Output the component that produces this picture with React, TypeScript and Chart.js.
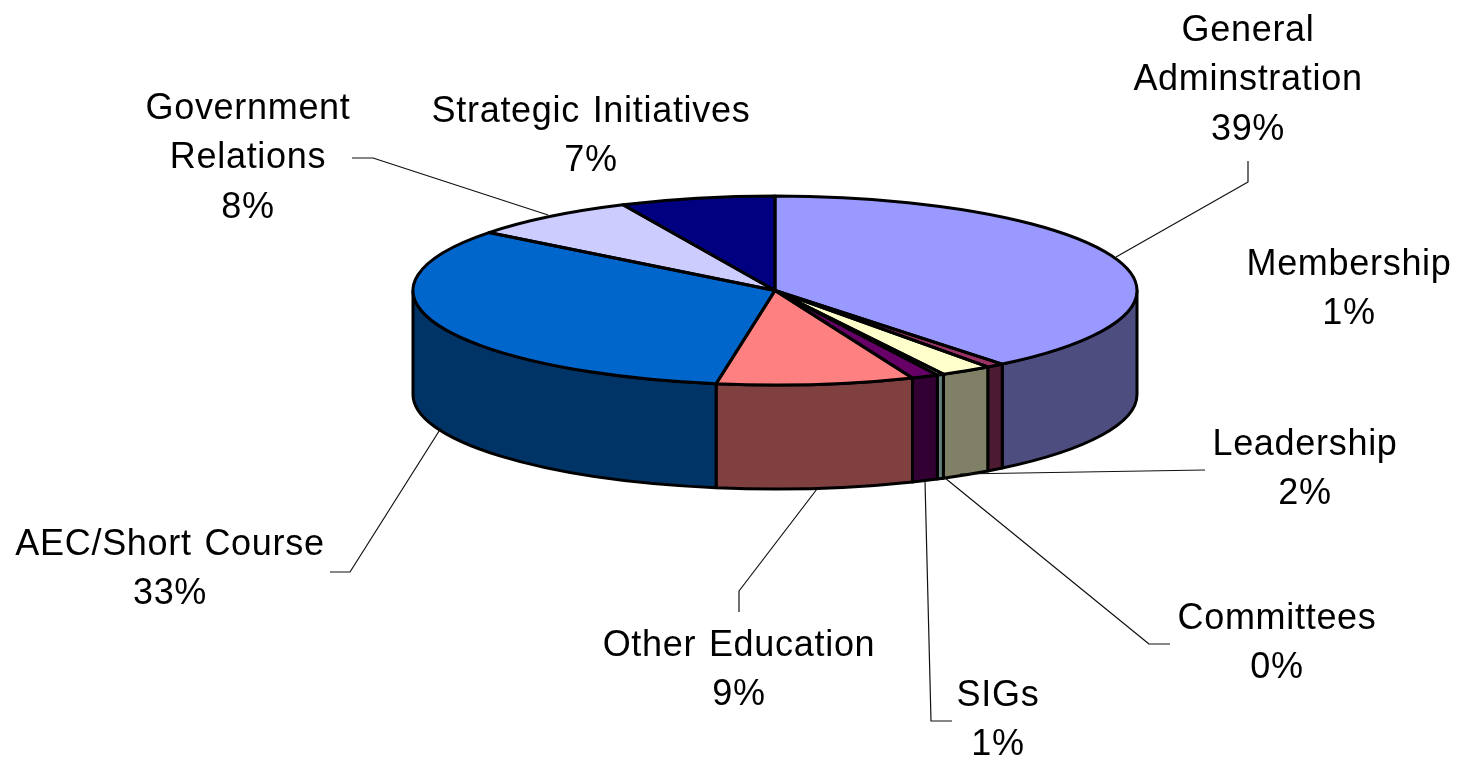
import React, { useEffect, useRef } from "react";
import { Chart, registerables } from "chart.js";

Chart.register(...registerables);

const categories = ["General Adminstration", "Membership", "Leadership", "Committees", "SIGs", "Other Education", "AEC/Short Course", "Government Relations", "Strategic Initiatives"];
const values = [39.2, 0.8, 2.3, 0.3, 1.2, 8.8, 32.9, 7.6, 6.9];
const topColors = ["#9999FF", "#993366", "#FFFFCC", "#CCFFFF", "#660066", "#FF8080", "#0066CC", "#CCCCFF", "#000080"];
const wallColors = ["#4D4D80", "#4D1A33", "#808066", "#668080", "#330033", "#804040", "#003366", "#666680", "#000040"];
const labelLines = [["General", "Adminstration"], ["Membership"], ["Leadership"], ["Committees"], ["SIGs"], ["Other Education"], ["AEC/Short Course"], ["Government", "Relations"], ["Strategic Initiatives"]];
const labelX = [1248, 1349, 1305, 1277, 998, 739, 170, 248, 591];
const labelY = [31, 265, 445, 619, 696, 646, 545, 109, 112];
const leaders: (number[][] | null)[] = [
  [[1116, 257], [1248, 182], [1248, 161]],
  null,
  [[960, 474], [1205, 470]],
  [[945, 478], [1149, 644], [1170, 644]],
  [[925, 481], [931, 721], [952, 721]],
  [[817, 489], [739, 591], [739, 612]],
  [[441, 428], [350, 572], [330, 572]],
  [[548, 215], [373, 158], [352, 158]],
  null,
];

const CY = 290.5;
const RY = 94.5;
const DEPTH = 104;
const LINE_H = 49.5;

const pie3d = {
  id: "pie3d",
  beforeDatasetsDraw(chart: any) {
    const { ctx } = chart;
    const arcs = chart.getDatasetMeta(0).data;
    ctx.save();
    ctx.lineWidth = 3;
    ctx.strokeStyle = "#000";
    ctx.lineJoin = "round";
    arcs.forEach((a: any, i: number) => {
      const s = Math.max(a.startAngle, 0);
      const e = Math.min(a.endAngle, Math.PI);
      if (e <= s) return;
      const r = a.outerRadius;
      ctx.beginPath();
      ctx.ellipse(a.x, CY, r, RY, 0, s, e);
      ctx.ellipse(a.x, CY + DEPTH, r, RY, 0, e, s, true);
      ctx.closePath();
      ctx.fillStyle = wallColors[i];
      ctx.fill();
      ctx.stroke();
    });
    const first = arcs[0];
    const k = RY / first.outerRadius;
    ctx.translate(0, CY);
    ctx.scale(1, k);
    ctx.translate(0, -first.y);
  },
  afterDatasetsDraw(chart: any) {
    const { ctx } = chart;
    const arcs = chart.getDatasetMeta(0).data;
    ctx.restore();
    ctx.save();
    ctx.lineWidth = 3;
    ctx.strokeStyle = "#000";
    ctx.lineJoin = "round";
    arcs.forEach((a: any) => {
      const r = a.outerRadius;
      ctx.beginPath();
      ctx.moveTo(a.x, CY);
      ctx.ellipse(a.x, CY, r, RY, 0, a.startAngle, a.endAngle);
      ctx.closePath();
      ctx.stroke();
    });
    ctx.lineWidth = 1.2;
    ctx.strokeStyle = "#111";
    leaders.forEach((pts) => {
      if (!pts) return;
      ctx.beginPath();
      pts.forEach((p, j) => (j ? ctx.lineTo(p[0], p[1]) : ctx.moveTo(p[0], p[1])));
      ctx.stroke();
    });
    ctx.fillStyle = "#000";
    ctx.font = '36px "Liberation Sans"';
    ctx.letterSpacing = "0.7px";
    ctx.wordSpacing = "2px";
    ctx.textAlign = "center";
    ctx.textBaseline = "middle";
    categories.forEach((_, i) => {
      const lines = [...labelLines[i], Math.round(values[i]) + "%"];
      lines.forEach((t, j) => ctx.fillText(t, labelX[i], labelY[i] + j * LINE_H));
    });
    ctx.restore();
  },
};

export default function App() {
  const ref = useRef<HTMLCanvasElement>(null);
  useEffect(() => {
    document.body.style.margin = "0";
    const chart = new Chart(ref.current!, {
      type: "pie",
      data: {
        labels: categories,
        datasets: [{ data: values, backgroundColor: topColors, borderWidth: 0 }],
      },
      options: {
        responsive: false,
        animation: false,
        layout: { padding: { left: 413, right: 322, top: 17, bottom: 17 } },
        plugins: { legend: { display: false }, tooltip: { enabled: false }, title: { display: false } },
      },
      plugins: [pie3d],
    } as any);
    return () => chart.destroy();
  }, []);
  return <canvas ref={ref} width={1459} height={758} style={{ display: "block" }} />;
}
